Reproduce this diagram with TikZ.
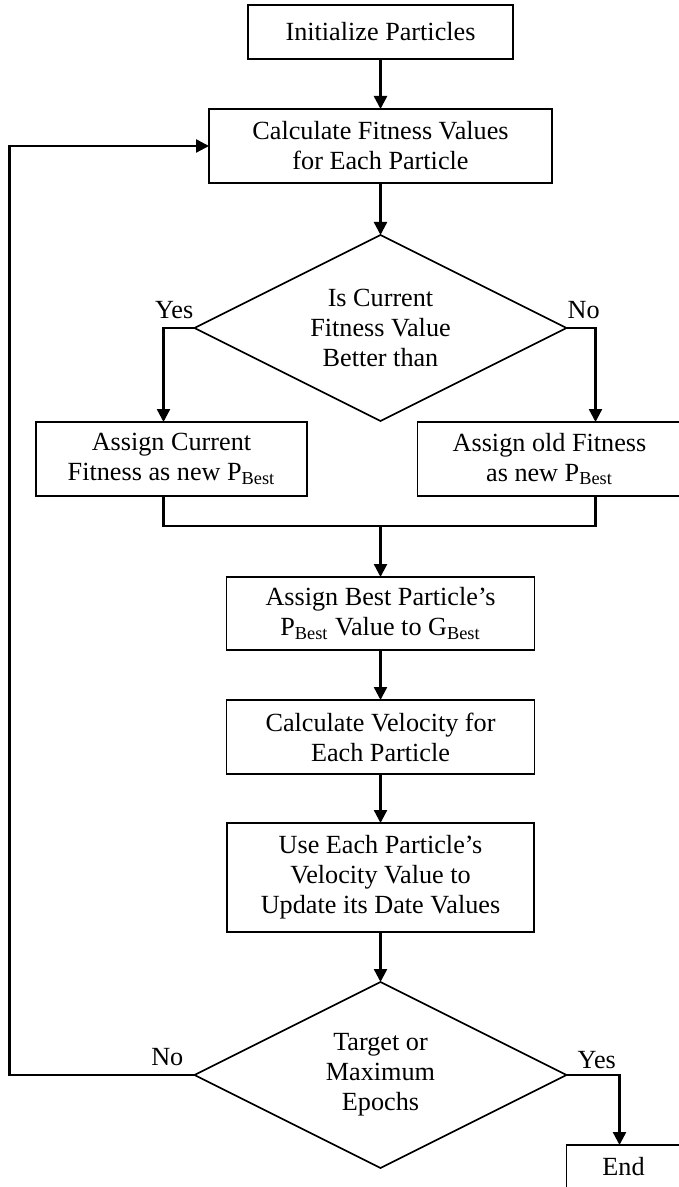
\documentclass[tikz,border=0pt]{standalone}
\usepackage{fontspec}
\setmainfont{Liberation Serif}
\usetikzlibrary{arrows.meta,positioning,shapes.geometric}
\newcommand{\flowfont}{\fontsize{13.1pt}{15pt}\selectfont}
\tikzset{
  stepbox/.style={draw,line width=0.9pt,align=center,font=\flowfont,inner sep=2pt,outer sep=0pt},
  decide/.style={draw,diamond,aspect=2,line width=0.8pt,align=center,font=\flowfont,
                 inner sep=0pt,outer sep=0pt,minimum width=186pt,minimum height=93pt},
  flow/.style={-{Triangle[length=6.5pt,width=6.5pt]},line width=1.2pt},
  link/.style={line width=1.2pt},
  lbl/.style={font=\flowfont,inner xsep=0pt,inner ysep=4pt},
}

\begin{document}
\begin{tikzpicture}[node distance=25pt]
  \useasboundingbox (0,0) rectangle (339.5pt,-593.5pt);

  \node[stepbox,minimum width=132.5pt,minimum height=27pt] (init) at (190.25pt,-16pt)
    {Initialize Particles};

  \node[stepbox,below=25pt of init,minimum width=171.5pt,minimum height=37pt] (fit)
    {Calculate Fitness Values\\for Each Particle};

  \node[decide,below=26pt of fit] (better)
    {Is Current\\Fitness Value\\Better than};

  \node[stepbox,below=0.5pt of better.south,xshift=-104.5pt,
        minimum width=135.5pt,minimum height=37pt] (cur)
    {Assign Current\\Fitness as new P\textsubscript{Best}};

  \node[stepbox,below=0.5pt of better.south,xshift=84.5pt,
        minimum width=132pt,minimum height=37pt] (old)
    {Assign old Fitness\\as new P\textsubscript{Best}};

  \node[stepbox,below=78pt of better,minimum width=154pt,minimum height=36.5pt] (gbest)
    {Assign Best Particle's\\P\textsubscript{Best} Value to G\textsubscript{Best}};
  \coordinate[above=25.5pt of gbest] (merge);

  \node[stepbox,below=25pt of gbest,minimum width=154pt,minimum height=37pt] (vel)
    {Calculate Velocity for\\Each Particle};

  \node[stepbox,below=24.5pt of vel,minimum width=153.5pt,minimum height=54.5pt] (upd)
    {Use Each Particle's\\Velocity Value to\\Update its Date Values};

  \node[decide,below=25pt of upd] (target)
    {Target or\\Maximum\\Epochs};

  \node[stepbox,below right=35pt and 0pt of target.east,
        minimum width=57pt,minimum height=22pt] (end)
    {End};

  \draw[flow] (init) -- (fit);
  \draw[flow] (fit) -- (better);
  \draw[flow] (better.west) -| ([xshift=-4pt]cur.north)
        node[lbl,pos=0,anchor=south east]{Yes};
  \draw[flow] (better.east) -| ([xshift=23pt]old.north)
        node[lbl,pos=0,anchor=south west]{No};
  \draw[link] ([xshift=-4pt]cur.south) |- (merge) -| ([xshift=23pt]old.south);
  \draw[flow] (merge) -- (gbest);
  \draw[flow] (gbest) -- (vel);
  \draw[flow] (vel) -- (upd);
  \draw[flow] (upd) -- (target);
  \draw[flow] (target.west) -- ++(-92.5pt,0)
        node[lbl,pos=0,anchor=south east,xshift=-5pt]{No} |- (fit.west);
  \draw[flow] (target.east) -| ([xshift=-2pt]end.north)
        node[lbl,pos=0,anchor=south west,xshift=5pt,inner ysep=2.5pt]{Yes};
\end{tikzpicture}
\end{document}
